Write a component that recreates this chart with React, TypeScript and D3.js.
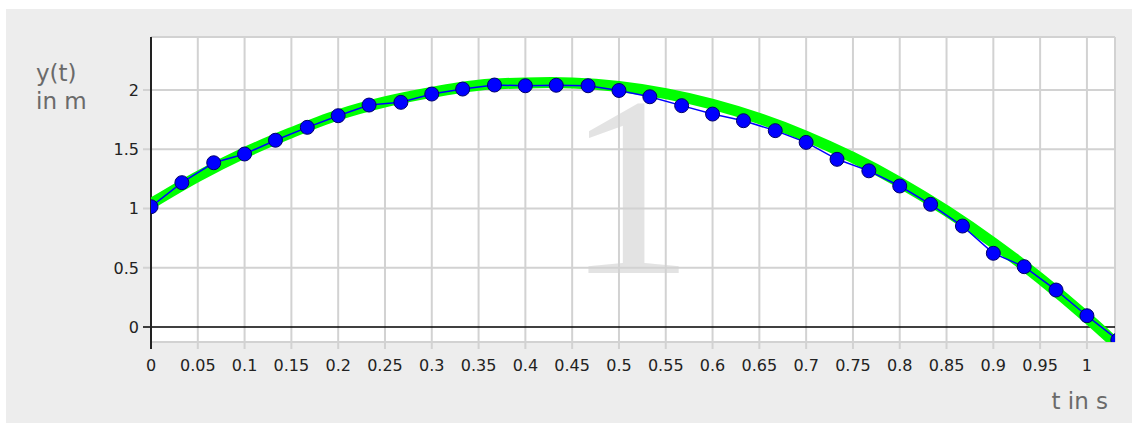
import React from "react";
import * as d3 from "d3";

// measured points (blue)
const tMeasured = [0, 0.033, 0.067, 0.1, 0.133, 0.167, 0.2, 0.233, 0.267, 0.3, 0.333, 0.367, 0.4, 0.433, 0.467, 0.5, 0.533, 0.567, 0.6, 0.633, 0.667, 0.7, 0.733, 0.767, 0.8, 0.833, 0.867, 0.9, 0.933, 0.967, 1.0, 1.033];
const yMeasured = [1.015, 1.218, 1.386, 1.46, 1.576, 1.685, 1.783, 1.873, 1.896, 1.966, 2.008, 2.042, 2.036, 2.04, 2.036, 1.996, 1.943, 1.868, 1.797, 1.741, 1.657, 1.558, 1.415, 1.318, 1.19, 1.035, 0.852, 0.622, 0.509, 0.312, 0.095, -0.11];

// model curve (green band)
const tModel = [0, 0.05, 0.1, 0.15, 0.2, 0.25, 0.3, 0.35, 0.4, 0.45, 0.5, 0.55, 0.6, 0.65, 0.7, 0.75, 0.8, 0.85, 0.9, 0.95, 1.0, 1.05];
const yModel = [1.04, 1.27, 1.47, 1.64, 1.79, 1.9, 1.98, 2.04, 2.06, 2.06, 2.03, 1.97, 1.88, 1.76, 1.61, 1.43, 1.22, 0.98, 0.71, 0.41, 0.08, -0.28];

const xTicks = [0, 0.05, 0.1, 0.15, 0.2, 0.25, 0.3, 0.35, 0.4, 0.45, 0.5, 0.55, 0.6, 0.65, 0.7, 0.75, 0.8, 0.85, 0.9, 0.95, 1];
const yTicks = [0, 0.5, 1, 1.5, 2];
const xDomain = [0, 1.03];
const yDomain = [-0.1266, 2.4473];

const yLabelLines = ["y(t)", "in m"];
const xLabel = "t in s";
const watermark = "1";

export default function App() {
  const W = 1133, H = 423;
  const L = 151, R = 1115, T = 37, B = 342;
  const x = d3.scaleLinear().domain(xDomain).range([L, R]);
  const y = d3.scaleLinear().domain(yDomain).range([B, T]);

  const model = tModel.map((t, i) => [t, yModel[i]] as [number, number]);
  const meas = tMeasured.map((t, i) => [t, yMeasured[i]] as [number, number]);
  const greenPath = d3.line().x(d => x(d[0])).y(d => y(d[1])).curve(d3.curveCatmullRom)(model) || "";
  const bluePath = d3.line().x(d => x(d[0])).y(d => y(d[1]))(meas) || "";
  const fmt = (v: number) => String(v);
  const font = "'DejaVu Sans', Verdana, sans-serif";

  return (
    <svg width={W} height={H} style={{ position: "absolute", left: 0, top: 0, background: "#fff" }}>
      <defs>
        <clipPath id="plotclip">
          <rect x={L} y={T} width={R - L} height={B - T} />
        </clipPath>
      </defs>
      <rect x={6} y={9} width={1126} height={H - 9} fill="#ededed" />
      <rect x={L} y={T} width={R - L} height={B - T} fill="#fff" />
      <text x={630} y={273} fontFamily="'Liberation Serif', 'DejaVu Serif', serif" fontSize={256} fill="#e3e3e3" textAnchor="middle">{watermark}</text>
      {xTicks.map(t => (
        <line key={"gx" + t} x1={x(t)} x2={x(t)} y1={T} y2={B + 7} stroke="#d2d2d2" strokeWidth={2} />
      ))}
      {yTicks.filter(v => v !== 0).map(v => (
        <line key={"gy" + v} x1={L - 8} x2={R} y1={y(v)} y2={y(v)} stroke="#d2d2d2" strokeWidth={2} />
      ))}
      <line x1={L} x2={R} y1={T} y2={T} stroke="#d2d2d2" strokeWidth={2} />
      <line x1={L} x2={R} y1={B} y2={B} stroke="#d2d2d2" strokeWidth={2} />
      <line x1={R} x2={R} y1={T} y2={B} stroke="#d2d2d2" strokeWidth={2} />
      <line x1={L - 8} x2={R} y1={y(0)} y2={y(0)} stroke="#000" strokeWidth={1.3} />
      <line x1={L} x2={L} y1={T} y2={B + 7} stroke="#222" strokeWidth={2} />
      <g clipPath="url(#plotclip)">
        <path d={greenPath} fill="none" stroke="#00ff00" strokeWidth={11} />
        <path d={bluePath} fill="none" stroke="#0000ff" strokeWidth={1.5} />
        {meas.map((d, i) => (
          <circle key={i} cx={x(d[0])} cy={y(d[1])} r={7} fill="#0000ff" stroke="#00006a" strokeWidth={1} />
        ))}
      </g>
      {yTicks.map(v => (
        <text key={"ty" + v} x={L - 12} y={y(v)} dy="0.36em" textAnchor="end" fontFamily={font} fontSize={16} fill="#222">{fmt(v)}</text>
      ))}
      {xTicks.map(t => (
        <text key={"tx" + t} x={x(t)} y={371} textAnchor="middle" fontFamily={font} fontSize={16} fill="#222">{fmt(t)}</text>
      ))}
      {yLabelLines.map((s, i) => (
        <text key={"yl" + i} x={36} y={81 + i * 28} fontFamily={font} fontSize={23} fill="#6a6a6a">{s}</text>
      ))}
      <text x={1108} y={409} textAnchor="end" fontFamily={font} fontSize={23} fill="#6a6a6a">{xLabel}</text>
    </svg>
  );
}
